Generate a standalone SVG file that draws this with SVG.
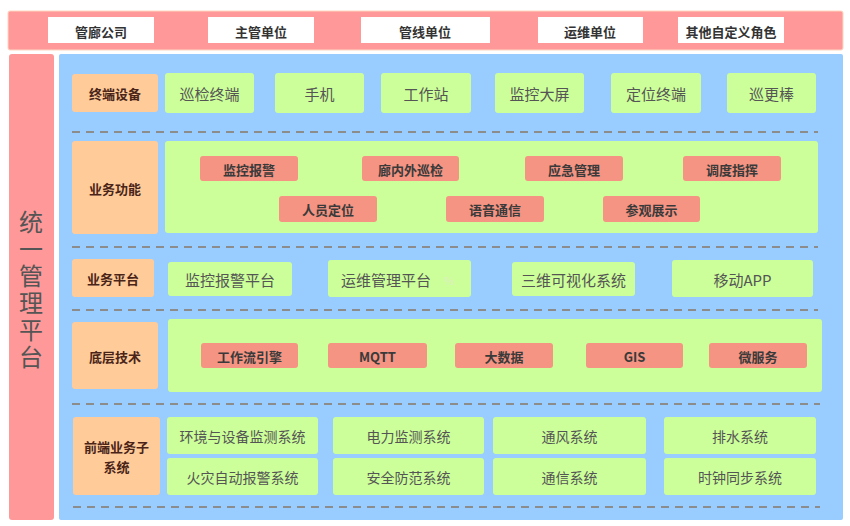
<svg xmlns="http://www.w3.org/2000/svg" width="850" height="526" viewBox="0 0 850 526">
<style>
text{font-family:"Noto Sans CJK SC","Noto Sans",sans-serif;text-anchor:middle;dominant-baseline:central}
.role{fill:#fff}
.rt{font-size:13px;font-weight:bold;fill:#333}
.cat{fill:#FFCC99}
.ct{font-size:13px;font-weight:bold;fill:#4A2418}
.g{fill:#CCFF99}
.gt{font-size:15px;fill:#555}
.gs{font-size:14px;fill:#555}
.r{fill:#F59482}
.rtx{font-size:13px;font-weight:bold;fill:#3a3a3a}
.dash{stroke:#8C8C8C;stroke-width:2;stroke-dasharray:8 6;fill:none}
.vt{font-size:24px;fill:#555;writing-mode:vertical-rl;text-anchor:start;letter-spacing:3px}
</style>
<rect width="850" height="526" fill="#fff"/>
<g id="top-bar">
<rect x="8" y="11" width="835" height="39" rx="2" fill="#FF9999" stroke="#FFD6C0" stroke-width="1"/>
</g>
<g id="role-guanlang"><rect class="role" x="48" y="17" width="106" height="26"/><text class="rt" x="101" y="31">管廊公司</text></g>
<g id="role-zhuguan"><rect class="role" x="208" y="17" width="106" height="26"/><text class="rt" x="261" y="31">主管单位</text></g>
<g id="role-guanxian"><rect class="role" x="361" y="17" width="129" height="26"/><text class="rt" x="425" y="31">管线单位</text></g>
<g id="role-yunwei"><rect class="role" x="538" y="17" width="105" height="26"/><text class="rt" x="590" y="31">运维单位</text></g>
<g id="role-other"><rect class="role" x="678" y="17" width="106" height="26"/><text class="rt" x="731" y="31">其他自定义角色</text></g>

<g id="platform">
<rect x="9" y="54" width="45" height="466" rx="3" fill="#FF9999"/>
<text class="vt" x="31" y="210">统一管理平台</text>
</g>
<g id="panel"><rect x="59" y="54" width="784" height="466" rx="2" fill="#99CCFF"/></g>

<g id="separators">
<line class="dash" x1="72" y1="132" x2="818" y2="132"/>
<line class="dash" x1="72" y1="247" x2="818" y2="247"/>
<line class="dash" x1="72" y1="310" x2="818" y2="310"/>
<line class="dash" x1="72" y1="404" x2="820" y2="404"/>
<line class="dash" x1="73" y1="507" x2="820" y2="507"/>
</g>

<g id="row-terminal">
<rect class="cat" x="72" y="74" width="86" height="38" rx="3"/><text class="ct" x="115" y="93">终端设备</text>
<rect class="g" x="165" y="73" width="89" height="40" rx="3"/><text class="gt" x="209.5" y="93">巡检终端</text>
<rect class="g" x="275" y="73" width="89" height="40" rx="3"/><text class="gt" x="319.5" y="93">手机</text>
<rect class="g" x="381" y="73" width="90" height="40" rx="3"/><text class="gt" x="426" y="93">工作站</text>
<rect class="g" x="495" y="73" width="89" height="40" rx="3"/><text class="gt" x="539.5" y="93">监控大屏</text>
<rect class="g" x="611" y="73" width="90" height="40" rx="3"/><text class="gt" x="656" y="93">定位终端</text>
<rect class="g" x="727" y="73" width="89" height="40" rx="3"/><text class="gt" x="771.5" y="93">巡更棒</text>
</g>

<g id="row-business">
<rect class="cat" x="72" y="141" width="86" height="93" rx="3"/><text class="ct" x="115" y="188">业务功能</text>
<rect class="g" x="165" y="141" width="653" height="92" rx="3"/>
<rect class="r" x="200" y="156" width="98" height="25" rx="3"/><text class="rtx" x="249" y="169">监控报警</text>
<rect class="r" x="362" y="156" width="97" height="25" rx="3"/><text class="rtx" x="410.5" y="169">廊内外巡检</text>
<rect class="r" x="525" y="156" width="98" height="25" rx="3"/><text class="rtx" x="574" y="169">应急管理</text>
<rect class="r" x="683" y="156" width="98" height="25" rx="3"/><text class="rtx" x="732" y="169">调度指挥</text>
<rect class="r" x="279" y="196" width="98" height="26" rx="3"/><text class="rtx" x="328" y="209">人员定位</text>
<rect class="r" x="446" y="196" width="98" height="26" rx="3"/><text class="rtx" x="495" y="209">语音通信</text>
<rect class="r" x="603" y="196" width="97" height="26" rx="3"/><text class="rtx" x="651.5" y="209">参观展示</text>
</g>

<g id="row-platform">
<rect class="cat" x="72" y="259" width="82" height="38" rx="3"/><text class="ct" x="113" y="278">业务平台</text>
<rect class="g" x="168" y="262" width="124" height="34" rx="3"/><text class="gt" x="230" y="279">监控报警平台</text>
<rect class="g" x="328" y="260" width="143" height="37" rx="3"/><text class="gt" x="386" y="279">运维管理平台</text>
<text x="449" y="280" style="font-size:11px;fill:#DDEFC0">%</text>
<rect class="g" x="512" y="262" width="123" height="34" rx="3"/><text class="gt" x="573.5" y="279">三维可视化系统</text>
<rect class="g" x="672" y="260" width="141" height="37" rx="3"/><text class="gt" x="742.5" y="279">移动APP</text>
</g>

<g id="row-tech">
<rect class="cat" x="72" y="322" width="86" height="67" rx="3"/><text class="ct" x="115" y="356">底层技术</text>
<rect class="g" x="168" y="319" width="654" height="73" rx="3"/>
<rect class="r" x="201" y="343" width="97" height="25" rx="3"/><text class="rtx" x="249.5" y="356">工作流引擎</text>
<rect class="r" x="328" y="343" width="99" height="25" rx="3"/><text class="rtx" x="377.5" y="356">MQTT</text>
<rect class="r" x="455" y="343" width="98" height="25" rx="3"/><text class="rtx" x="504" y="356">大数据</text>
<rect class="r" x="586" y="343" width="97" height="25" rx="3"/><text class="rtx" x="634.5" y="356">GIS</text>
<rect class="r" x="709" y="343" width="98" height="25" rx="3"/><text class="rtx" x="758" y="356">微服务</text>
</g>

<g id="row-subsystems">
<rect class="cat" x="73" y="417" width="87" height="78" rx="3"/>
<text class="ct" x="116.5" y="446">前端业务子</text><text class="ct" x="116.5" y="466">系统</text>
<rect class="g" x="167" y="417" width="151" height="37" rx="3"/><text class="gs" x="242.5" y="436">环境与设备监测系统</text>
<rect class="g" x="333" y="417" width="151" height="37" rx="3"/><text class="gs" x="408.5" y="436">电力监测系统</text>
<rect class="g" x="493" y="417" width="153" height="37" rx="3"/><text class="gs" x="569.5" y="436">通风系统</text>
<rect class="g" x="664" y="417" width="152" height="37" rx="3"/><text class="gs" x="740" y="436">排水系统</text>
<rect class="g" x="167" y="458" width="151" height="37" rx="3"/><text class="gs" x="242.5" y="477">火灾自动报警系统</text>
<rect class="g" x="333" y="458" width="151" height="37" rx="3"/><text class="gs" x="408.5" y="477">安全防范系统</text>
<rect class="g" x="493" y="458" width="153" height="37" rx="3"/><text class="gs" x="569.5" y="477">通信系统</text>
<rect class="g" x="664" y="458" width="152" height="37" rx="3"/><text class="gs" x="740" y="477">时钟同步系统</text>
</g>
</svg>
